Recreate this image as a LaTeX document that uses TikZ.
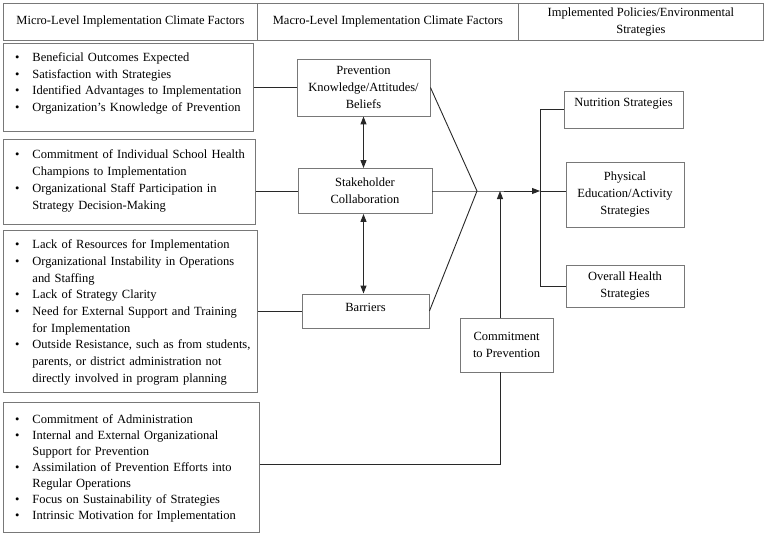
\documentclass[tikz,border=0pt]{standalone}
\usepackage{fontspec}
\setmainfont{Liberation Serif}
\usepackage{enumitem}
\usepackage{tikz}
\usetikzlibrary{arrows.meta, positioning, calc}
\definecolor{boxgray}{RGB}{120,120,120}
\definecolor{linegray}{RGB}{40,40,40}
\hyphenpenalty=10000

\begin{document}
\begin{tikzpicture}[
    x=1pt, y=-1pt,
    font=\fontsize{12.5}{16.7}\selectfont,
    % Node styles
    header/.style={rectangle, draw=boxgray, line width=0.9pt, anchor=north west, minimum height=37pt, inner sep=0pt, align=center},
    factors/.style={rectangle, draw=boxgray, line width=0.9pt, anchor=north west, text width=238pt, inner xsep=6pt, inner ysep=0pt, align=left},
    macro/.style={rectangle, draw=boxgray, line width=0.9pt, inner sep=0pt, align=center},
    strategy/.style={rectangle, draw=boxgray, line width=0.9pt, inner sep=0pt, align=center},
    link/.style={draw=linegray, line width=0.9pt},
    arrow/.style={link, -{Triangle[length=8pt, width=6pt]}},
    dblarrow/.style={link, {Triangle[length=8pt, width=6pt]}-{Triangle[length=8pt, width=6pt]}},
]
\useasboundingbox (0,0) rectangle (764,535);

% ============================================================================
% HEADER ROW
% ============================================================================
\node[header, minimum width=254pt] (hmicro) at (3,3) {Micro-Level Implementation Climate Factors};
\node[header, minimum width=261pt] (hmacro) at (257,3) {Macro-Level Implementation Climate Factors};
\node[header, minimum width=245pt] (hpolicy) at (518,3) {Implemented Policies/Environmental\\Strategies};

% ============================================================================
% MICRO-LEVEL FACTORS (left column)
% ============================================================================
\node[factors, minimum height=88pt] (micro1) at (3,43) {%
\begin{itemize}[nosep, leftmargin=23pt, labelsep=13pt]
  \item Beneficial Outcomes Expected
  \item Satisfaction with Strategies
  \item Identified Advantages to Implementation
  \item Organization's Knowledge of Prevention
\end{itemize}\par\vspace*{16pt}\hrule height 0pt};

\node[factors, minimum height=85pt, text width=240pt] (micro2) at (3,139) {%
\begin{itemize}[nosep, leftmargin=23pt, labelsep=13pt]
  \item Commitment of Individual School Health\newline Champions to Implementation
  \item Organizational Staff Participation in\newline Strategy Decision-Making
\end{itemize}\par\vspace*{10pt}\hrule height 0pt};

\node[factors, minimum height=162pt, text width=242pt] (micro3) at (3,230) {%
\begin{itemize}[nosep, leftmargin=23pt, labelsep=13pt]
  \item Lack of Resources for Implementation
  \item Organizational Instability in Operations\newline and Staffing
  \item Lack of Strategy Clarity
  \item Need for External Support and Training\newline for Implementation
  \item Outside Resistance, such as from students,\newline parents, or district administration not\newline directly involved in program planning
\end{itemize}\par\vspace*{6pt}\hrule height 0pt};

\node[factors, minimum height=130pt, text width=244pt, font=\fontsize{12.5}{16}\selectfont] (micro4) at (3,402) {%
\begin{itemize}[nosep, leftmargin=23pt, labelsep=13pt]
  \item Commitment of Administration
  \item Internal and External Organizational\newline Support for Prevention
  \item Assimilation of Prevention Efforts into\newline Regular Operations
  \item Focus on Sustainability of Strategies
  \item Intrinsic Motivation for Implementation
\end{itemize}\par\vspace*{6pt}\hrule height 0pt};

% ============================================================================
% MACRO-LEVEL FACTORS (middle column)
% ============================================================================
\node[macro, minimum width=133pt, minimum height=57pt] (prevention) at (363.5,87.5) {Prevention\\Knowledge/Attitudes/\\Beliefs};
\node[macro, minimum width=134pt, minimum height=45pt] (stakeholder) at (365,191) {Stakeholder\\Collaboration};
\node[macro, minimum width=127pt, minimum height=34pt] (barriers) at (365.5,311) {\raisebox{3pt}[9pt][3pt]{Barriers}};
\node[macro, minimum width=93pt, minimum height=54pt] (commitment) at (506.5,345) {Commitment\\to Prevention};

% ============================================================================
% STRATEGIES (right column)
% ============================================================================
\node[strategy, minimum width=119pt, minimum height=37pt] (nutrition) at (623.5,109.5) {\raisebox{6pt}[9pt][3pt]{Nutrition Strategies}};
\node[strategy, minimum width=118pt, minimum height=65pt] (physical) at (625,194.5) {Physical\\Education/Activity\\Strategies};
\node[strategy, minimum width=118pt, minimum height=42pt] (overall) at (625,286) {Overall Health\\Strategies};

% Junction points
\coordinate (merge) at (477,191);
\coordinate (join) at (500,191);
\coordinate (branch) at (540,191);

% ============================================================================
% CONNECTORS
% ============================================================================
\draw[link] (micro1.east |- prevention.west) -- (prevention.west);
\draw[link] (micro2.east |- stakeholder.west) -- (stakeholder.west);
\draw[link] (micro3.east |- barriers.west) -- (barriers.west);

\draw[dblarrow] (prevention.south) -- (prevention.south |- stakeholder.north);
\draw[dblarrow] (prevention.south |- stakeholder.south) -- (prevention.south |- barriers.north);

\draw[link] (prevention.east) -- (merge);
\draw[link] (barriers.east) -- (merge);
\draw[arrow] (stakeholder.east) -- (merge) -- (branch);

% Commitment feeds into the main line
\draw[arrow] (join |- commitment.north) -- (join);
\draw[link] (micro4.east |- 0,464) -- (join |- 0,464) -- (join |- commitment.south);

% Branch out to strategies
\draw[link] (branch |- nutrition.west) -- (branch |- overall.west);
\foreach \target in {nutrition, overall} {
    \draw[link] (branch |- \target.west) -- (\target.west);
}
\draw[link] (branch) -- (branch -| physical.west);

\end{tikzpicture}
\end{document}
